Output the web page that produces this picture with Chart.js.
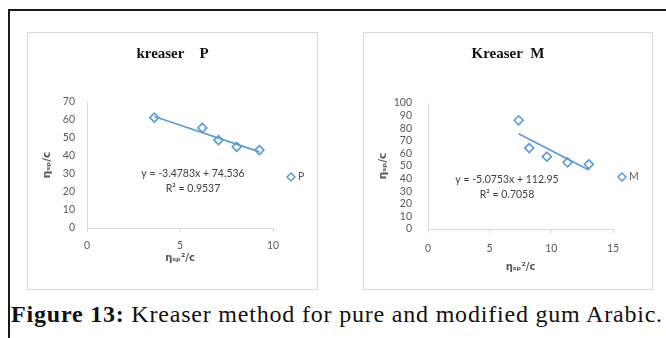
<!DOCTYPE html>
<html><head><meta charset="utf-8">
<script src="https://cdn.jsdelivr.net/npm/chart.js@4.4.1/dist/chart.umd.min.js"></script>
<style>
html,body{margin:0;padding:0;background:#fff;width:666px;height:338px;overflow:hidden;}
#frame{position:absolute;left:8px;top:9px;width:700px;height:400px;border-left:2px solid #1a1a1a;border-top:2px solid #1a1a1a;}
.panel{position:absolute;top:32px;height:258px;border:1px solid #d9d9d9;box-sizing:border-box;}
.panel canvas{position:absolute;left:-1px;top:-1px;}
#caption{position:absolute;left:11px;top:301px;font-family:"Liberation Serif",serif;font-size:24px;letter-spacing:0.8px;white-space:nowrap;color:#111;}
</style></head>
<body>
<div id="frame"></div>
<div class="panel" style="left:27px;width:291px;"><canvas id="cP" width="291" height="258"></canvas></div>
<div class="panel" style="left:363px;width:290px;"><canvas id="cM" width="290" height="258"></canvas></div>
<div id="caption"><b>Figure 13:</b> Kreaser method for pure and modified gum Arabic.</div>
<script>
// ---- data ----
const titleP = 'kreaser    P';
const titleM = 'Kreaser  M';
const seriesP = 'P';
const seriesM = 'M';
const xP = [3.62, 6.2, 7.07, 8.05, 9.27];
const yP = [61.3, 55.6, 48.8, 45.1, 43.3];
const xM = [7.35, 8.21, 9.64, 11.31, 13.04];
const yM = [86.3, 64.2, 57.4, 52.9, 51.3];
const trendXP = [3.62, 9.27];
const trendYP = [61.94, 42.29];
const trendXM = [7.35, 13.04];
const trendYM = [75.65, 46.77];
const eqP = ['y = -3.4783x + 74.536', 'R\u00B2 = 0.9537'];
const eqM = ['y = -5.0753x + 112.95', 'R\u00B2 = 0.7058'];
const xTicksP = [0, 5, 10];
const yTicksP = [0, 10, 20, 30, 40, 50, 60, 70];
const xTicksM = [0, 5, 10, 15];
const yTicksM = [0, 10, 20, 30, 40, 50, 60, 70, 80, 90, 100];
const xAxisTitle = '\u03B7\u209B\u209A\u00B2/c';
const yAxisTitle = '\u03B7\u209B\u209A/c';

const BLUE = '#5B9BD5';
const GREY = '#595959';
const TICKFONT = {family: 'Lato, "Liberation Sans", sans-serif', size: 10.5};

const overlay = {
  id: 'overlay',
  afterDatasetsDraw(chart, args, o) {
    const ctx = chart.ctx;
    ctx.save();
    ctx.font = '10.5px Lato, "Liberation Sans", sans-serif';
    ctx.fillStyle = '#404040';
    ctx.textAlign = 'center';
    ctx.textBaseline = 'middle';
    ctx.fillText(o.eq[0], o.eqX, o.eqY);
    ctx.fillText(o.eq[1], o.eqX, o.eqY + 15);
    // legend marker drawn with the library's point renderer
    ctx.strokeStyle = BLUE;
    ctx.fillStyle = 'rgba(0,0,0,0)';
    ctx.lineWidth = 1.5;
    Chart.helpers.drawPoint(ctx, {pointStyle: 'rectRot', radius: 4, borderWidth: 1.5}, o.legX, o.legY);
    ctx.textAlign = 'left';
    ctx.fillStyle = GREY;
    ctx.fillText(o.legText, o.legX + 7, o.legY);
    ctx.restore();
  }
};

function makeChart(id, t, xs, ys, tx, ty, xt, yt, eq, leg, L) {
  const pts = xs.map((x, i) => ({x: x, y: ys[i]}));
  const tr = tx.map((x, i) => ({x: x, y: ty[i]}));
  new Chart(document.getElementById(id), {
    type: 'scatter',
    data: {datasets: [
      {label: leg, data: pts, pointStyle: 'rectRot', pointRadius: 4.5, pointBorderWidth: 1.6,
       borderColor: BLUE, backgroundColor: 'rgba(0,0,0,0)', pointBackgroundColor: 'rgba(0,0,0,0)', order: 1},
      {label: 'trend', data: tr, showLine: true, pointRadius: 0, borderColor: BLUE, borderWidth: 1.6, order: 2}
    ]},
    plugins: [overlay],
    options: {
      responsive: false, animation: false, events: [],
      layout: {padding: 0},
      plugins: {
        legend: {display: false}, tooltip: {enabled: false},
        title: {display: true, text: t, color: '#111',
          font: {family: '"Liberation Serif", serif', size: 15, weight: 'bold'},
          padding: {top: L.titleTop, bottom: L.titleBottom}},
        overlay: {eq: eq, eqX: L.eqX, eqY: L.eqY, legX: L.legX, legY: L.legY, legText: leg}
      },
      scales: {
        x: {type: 'linear', min: xt[0], max: xt[xt.length - 1],
          afterBuildTicks: s => { s.ticks = xt.map(v => ({value: v})); },
          afterFit: s => { s.height = L.xH; },
          grid: {display: true, drawOnChartArea: false, color: '#d9d9d9', tickLength: 4, tickColor: '#d9d9d9'},
          border: {color: '#d9d9d9'},
          ticks: {color: GREY, font: TICKFONT, padding: L.xPad, maxRotation: 0, autoSkip: false},
          title: {display: true, text: xAxisTitle, color: GREY,
            font: {family: '"DejaVu Sans", sans-serif', size: 10, weight: 'bold'}, padding: {top: 0, bottom: L.xTitlePad}}},
        y: {type: 'linear', min: yt[0], max: yt[yt.length - 1],
          afterBuildTicks: s => { s.ticks = yt.map(v => ({value: v})); },
          afterFit: s => { s.width = L.yW; },
          grid: {display: true, drawOnChartArea: false, drawTicks: false, color: '#d9d9d9'},
          border: {color: '#d9d9d9'},
          ticks: {color: GREY, font: TICKFONT, padding: L.yPad, autoSkip: false},
          title: {display: true, text: yAxisTitle, color: GREY,
            font: {family: '"DejaVu Sans", sans-serif', size: 10.5, weight: 'bold'}, padding: {top: 14, bottom: 0}}},
        spacer: {type: 'linear', position: 'right', display: true, min: 0, max: 1,
          afterFit: s => { s.width = L.right; },
          grid: {display: false}, border: {display: false}, ticks: {display: false}}
      }
    }
  });
}

makeChart('cP', titleP, xP, yP, trendXP, trendYP, xTicksP, yTicksP, eqP, seriesP,
  {right: 45, titleTop: 13, titleBottom: 39, xH: 62, yW: 60, xPad: 7, yPad: 12, xTitlePad: 26,
   eqX: 166, eqY: 142, legX: 264, legY: 145});
makeChart('cM', titleM, xM, yM, trendXM, trendYM, xTicksM, yTicksM, eqM, seriesM,
  {right: 40, titleTop: 13, titleBottom: 40, xH: 61, yW: 65, xPad: 9, yPad: 16, xTitlePad: 17,
   eqX: 144, eqY: 148, legX: 259, legY: 145});
</script>
</body></html>
